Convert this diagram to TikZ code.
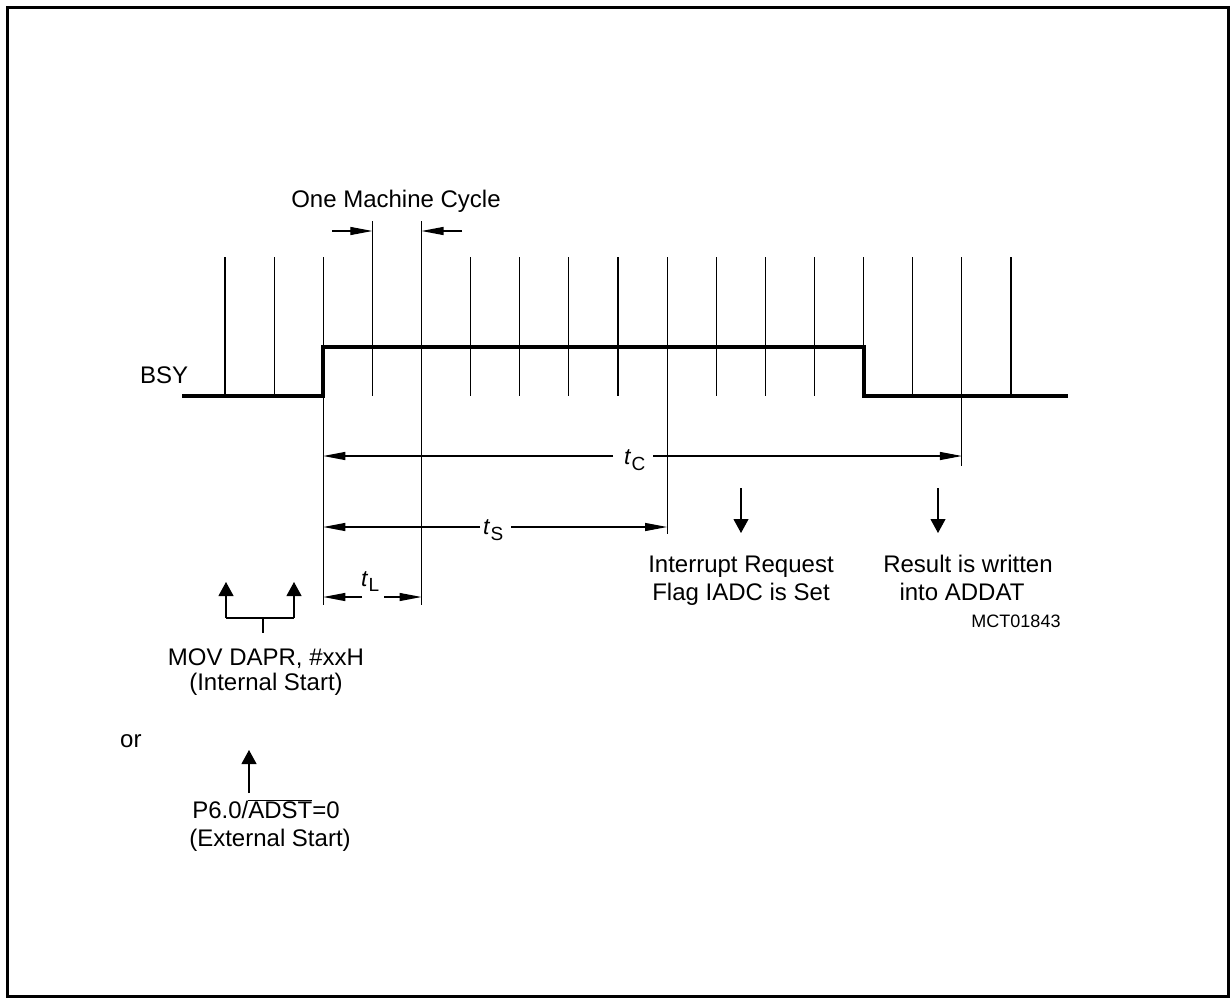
\documentclass[tikz,border=0pt]{standalone}
\usepackage{fontspec}
\setmainfont{Liberation Sans}
\usetikzlibrary{arrows.meta}
\begin{document}
\begin{tikzpicture}[x=1pt,y=-1pt,
  clk/.style={line width=1.1pt},
  sig/.style={line width=4.2pt, line join=miter},
  dim/.style={line width=1.1pt, -{Triangle[length=22pt,width=8pt]}},
  evt/.style={line width=1.1pt, -{Triangle[length=14pt,width=15pt]}},
  txt/.style={font=\fontsize{24}{28}\selectfont, inner sep=0pt, anchor=base},
  small/.style={font=\fontsize{18}{20}\selectfont, inner sep=0pt, anchor=base},
  lbl/.style={inner sep=0pt, anchor=base west}]
\useasboundingbox (0,0) rectangle (1230,998);
\draw[line width=3pt] (7.5,7.5) rectangle (1228.5,996.5);

% clock lines
\foreach \i/\top/\bot in {0/257/396,1/257/396,2/257/605,3/221/396,4/221/605,5/257/396,6/257/396,7/257/396,8/257/396,9/257/534,10/257/396,11/257/396,12/257/396,13/257/396,14/257/396,15/257/466,16/257/396}{
  \coordinate (c\i t) at ({225+49.125*\i},\top);
  \coordinate (c\i b) at ({225+49.125*\i},\bot);
  \draw[clk] (c\i t) -- (c\i b);
}

% BSY signal
\coordinate (s0) at (182,396);
\coordinate (s1) at (323.25,396);
\coordinate (s2) at (323.25,347);
\coordinate (s3) at (863.6,347);
\coordinate (s4) at (863.6,396);
\coordinate (s5) at (1068,396);
\draw[sig] (s0) -- (s1) -- (s2) -- (s3) -- (s4) -- (s5);
\node[txt, anchor=base west] (bsy) at (140,383) {BSY};

% one machine cycle
\node[txt] (omc) at (396,207) {One Machine Cycle};
\coordinate (omcL0) at (332,231);
\coordinate (omcL1) at (372.4,231);
\coordinate (omcR0) at (462,231);
\coordinate (omcR1) at (421.5,231);
\draw[dim] (omcL0) -- (omcL1);
\draw[dim] (omcR0) -- (omcR1);

% t_C
\coordinate (tcA) at (323.25,456);
\coordinate (tcB) at (613,456);
\coordinate (tcC) at (653,456);
\coordinate (tcD) at (961.9,456);
\draw[dim] (tcB) -- (tcA);
\draw[dim] (tcC) -- (tcD);
\node[lbl] (tc) at (624,464) {\fontsize{23}{23}\selectfont\itshape t\hspace{1pt}\raisebox{-6pt}{\fontsize{19}{19}\selectfont\upshape C}};

% t_S
\coordinate (tsA) at (323.25,527);
\coordinate (tsB) at (480,527);
\coordinate (tsC) at (511,527);
\coordinate (tsD) at (667.1,527);
\draw[dim] (tsB) -- (tsA);
\draw[dim] (tsC) -- (tsD);
\node[lbl] (ts) at (483,534) {\fontsize{23}{23}\selectfont\itshape t\hspace{1pt}\raisebox{-6pt}{\fontsize{19}{19}\selectfont\upshape S}};

% t_L
\coordinate (tlA) at (323.25,597);
\coordinate (tlB) at (362,597);
\coordinate (tlC) at (384,597);
\coordinate (tlD) at (421.5,597);
\draw[dim] (tlB) -- (tlA);
\draw[dim] (tlC) -- (tlD);
\node[lbl] (tl) at (361,586) {\fontsize{23}{23}\selectfont\itshape t\hspace{1pt}\raisebox{-5pt}{\fontsize{19}{19}\selectfont\upshape L}};

% interrupt / result events
\coordinate (e1t) at (741,488);
\coordinate (e1b) at (741,533);
\coordinate (e2t) at (938,488);
\coordinate (e2b) at (938,533);
\draw[evt] (e1t) -- (e1b);
\draw[evt] (e2t) -- (e2b);
\node[txt] (irq1) at (741,572) {Interrupt Request};
\node[txt] (irq2) at (741,600) {Flag IADC is Set};
\node[txt] (res1) at (968,572) {Result is written};
\node[txt] (res2) at (962,600) {into ADDAT};
\node[small] (mct) at (1016,627) {MCT01843};

% internal start
\coordinate (u1t) at (226,582);
\coordinate (u1b) at (226,618);
\coordinate (u2t) at (294,582);
\coordinate (u2b) at (294,618);
\coordinate (um) at (263,618);
\coordinate (umb) at (263,633);
\draw[evt] (u1b) -- (u1t);
\draw[evt] (u2b) -- (u2t);
\draw[clk] (u1b) -- (u2b);
\draw[clk] (um) -- (umb);
\node[txt] (mov) at (266,665) {MOV DAPR, \#xxH};
\node[txt] (ints) at (266,690) {(Internal Start)};

% or / external start
\node[txt, anchor=base west] (or) at (120,747) {or};
\coordinate (x1t) at (249,750);
\coordinate (x1b) at (249,793);
\draw[evt] (x1b) -- (x1t);
\node[txt] (p60) at (266,818) {P6.0/$\overline{\hbox{ADST}}$=0};
\node[txt] (exts) at (270,846) {(External Start)};
\end{tikzpicture}
\end{document}
